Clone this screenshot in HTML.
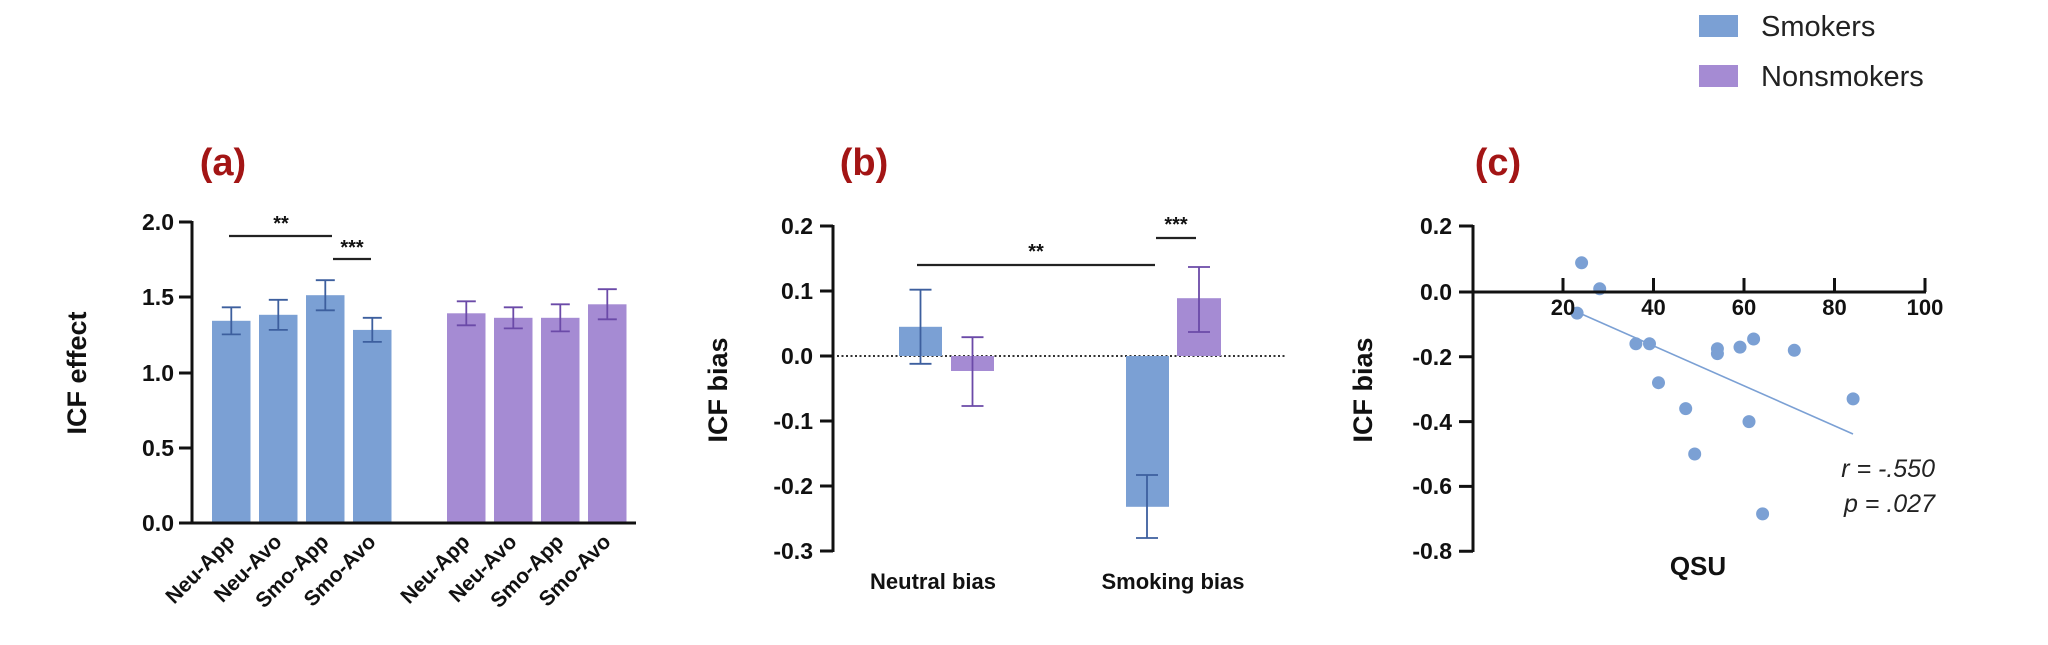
<!DOCTYPE html>
<html><head><meta charset="utf-8"><style>
html,body{margin:0;padding:0;background:#fff;}
svg{display:block;font-family:"Liberation Sans",Arial,sans-serif;}
.tk{font-size:23px;font-weight:bold;fill:#111;text-anchor:end;}
.ttl{font-size:27px;font-weight:bold;fill:#111;text-anchor:middle;}
.pl{font-size:38px;font-weight:bold;fill:#a31515;text-anchor:middle;}
.xl{font-size:21px;font-weight:bold;fill:#111;text-anchor:end;}
.ax{stroke:#111;stroke-width:3;fill:none;}
.eb{stroke:#3d5f9e;stroke-width:1.8;fill:none;}
.ep{stroke:#6b4aa8;stroke-width:1.8;fill:none;}
.st{font-size:20px;font-weight:bold;text-anchor:middle;fill:#111;}
</style></head><body>
<svg width="2048" height="645" viewBox="0 0 2048 645">
<!-- Legend -->
<rect x="1699" y="15" width="39" height="22" fill="#7ba0d4"/>
<text x="1761" y="36" font-size="29" fill="#222">Smokers</text>
<rect x="1699" y="65" width="39" height="22" fill="#a58bd3"/>
<text x="1761" y="86" font-size="29" fill="#222">Nonsmokers</text>

<!-- Panel a -->
<text class="pl" x="223" y="175">(a)</text>
<text class="ttl" transform="translate(86,373) rotate(-90)">ICF effect</text>
<g fill="#7ba0d4">
<rect x="212" y="320.8" width="38.5" height="202.2"/>
<rect x="259" y="314.8" width="38.5" height="208.2"/>
<rect x="306" y="295.2" width="38.5" height="227.8"/>
<rect x="353" y="329.9" width="38.5" height="193.1"/>
</g>
<g fill="#a58bd3">
<rect x="447" y="313.3" width="38.5" height="209.7"/>
<rect x="494" y="317.8" width="38.5" height="205.2"/>
<rect x="541" y="317.8" width="38.5" height="205.2"/>
<rect x="588" y="304.3" width="38.5" height="218.7"/>
</g>
<g class="eb">
<path d="M231.3 307.3V334.4M221.8 307.3H240.8M221.8 334.4H240.8"/>
<path d="M278.3 299.8V329.9M268.8 299.8H287.8M268.8 329.9H287.8"/>
<path d="M325.3 280.2V310.3M315.8 280.2H334.8M315.8 310.3H334.8"/>
<path d="M372.3 317.8V341.9M362.8 317.8H381.8M362.8 341.9H381.8"/>
</g>
<g class="ep">
<path d="M466.3 301.3V325.3M456.8 301.3H475.8M456.8 325.3H475.8"/>
<path d="M513.3 307.3V328.4M503.8 307.3H522.8M503.8 328.4H522.8"/>
<path d="M560.3 304.3V331.4M550.8 304.3H569.8M550.8 331.4H569.8"/>
<path d="M607.3 289.2V319.3M597.8 289.2H616.8M597.8 319.3H616.8"/>
</g>
<path class="ax" d="M192 221V523M179 222H192M179 297H192M179 373H192M179 448H192M179 523H636"/>
<text class="tk" x="174" y="230">2.0</text>
<text class="tk" x="174" y="305">1.5</text>
<text class="tk" x="174" y="381">1.0</text>
<text class="tk" x="174" y="456">0.5</text>
<text class="tk" x="174" y="531">0.0</text>
<path d="M229 236H332M333 259H371" stroke="#222" stroke-width="2.2"/>
<text class="st" x="281" y="230">**</text>
<text class="st" x="352" y="254">***</text>
<g class="xl">
<text transform="translate(236,543) rotate(-45)">Neu-App</text>
<text transform="translate(283,543) rotate(-45)">Neu-Avo</text>
<text transform="translate(330,543) rotate(-45)">Smo-App</text>
<text transform="translate(377,543) rotate(-45)">Smo-Avo</text>
<text transform="translate(471,543) rotate(-45)">Neu-App</text>
<text transform="translate(518,543) rotate(-45)">Neu-Avo</text>
<text transform="translate(565,543) rotate(-45)">Smo-App</text>
<text transform="translate(612,543) rotate(-45)">Smo-Avo</text>
</g>

<!-- Panel b -->
<text class="pl" x="864" y="175">(b)</text>
<text class="ttl" transform="translate(727,390) rotate(-90)">ICF bias</text>
<line x1="837" y1="356" x2="1287" y2="356" stroke="#333" stroke-width="2" stroke-dasharray="2,2.5"/>
<rect x="899" y="326.8" width="43" height="29.2" fill="#7ba0d4"/>
<rect x="951" y="356" width="43" height="15" fill="#a58bd3"/>
<rect x="1126" y="356" width="43" height="150.8" fill="#7ba0d4"/>
<rect x="1177" y="298.2" width="44" height="57.8" fill="#a58bd3"/>
<path class="eb" d="M920.5 289.7V363.8M909.5 289.7H931.5M909.5 363.8H931.5"/>
<path class="ep" d="M972.5 337.2V406M961.5 337.2H983.5M961.5 406H983.5"/>
<path class="eb" d="M1147 475V538M1136 475H1158M1136 538H1158"/>
<path class="ep" d="M1199 267V332M1188 267H1210M1188 332H1210"/>
<path class="ax" d="M833 225V552M820 226H833M820 291H833M820 356H833M820 421H833M820 486H833M820 551H833"/>
<text class="tk" x="813" y="234">0.2</text>
<text class="tk" x="813" y="299">0.1</text>
<text class="tk" x="813" y="364">0.0</text>
<text class="tk" x="813" y="429">-0.1</text>
<text class="tk" x="813" y="494">-0.2</text>
<text class="tk" x="813" y="559">-0.3</text>
<path d="M917 265H1155M1156 238H1196" stroke="#222" stroke-width="2.2"/>
<text class="st" x="1036" y="258">**</text>
<text class="st" x="1176" y="231">***</text>
<text x="933" y="589" font-size="22" font-weight="bold" text-anchor="middle" fill="#111">Neutral bias</text>
<text x="1173" y="589" font-size="22" font-weight="bold" text-anchor="middle" fill="#111">Smoking bias</text>

<!-- Panel c -->
<text class="pl" x="1498" y="175">(c)</text>
<text class="ttl" transform="translate(1372,390) rotate(-90)">ICF bias</text>
<line x1="1577" y1="312" x2="1853" y2="434" stroke="#7ba0d4" stroke-width="1.6"/>
<g fill="#7ba0d4">
<circle cx="1581.6" cy="262.8" r="6.5"/>
<circle cx="1599.7" cy="288.8" r="6.5"/>
<circle cx="1577.1" cy="313.1" r="6.5"/>
<circle cx="1635.9" cy="343.8" r="6.5"/>
<circle cx="1649.5" cy="343.8" r="6.5"/>
<circle cx="1658.5" cy="382.7" r="6.5"/>
<circle cx="1685.7" cy="408.6" r="6.5"/>
<circle cx="1694.7" cy="454" r="6.5"/>
<circle cx="1717.4" cy="348.7" r="6.5"/>
<circle cx="1717.4" cy="353.6" r="6.5"/>
<circle cx="1740" cy="347.1" r="6.5"/>
<circle cx="1749" cy="421.6" r="6.5"/>
<circle cx="1753.6" cy="339" r="6.5"/>
<circle cx="1762.6" cy="513.9" r="6.5"/>
<circle cx="1794.3" cy="350.3" r="6.5"/>
<circle cx="1853.1" cy="398.9" r="6.5"/>
</g>
<path class="ax" d="M1473 225V552M1459 226H1473M1459 292H1473M1459 356.8H1473M1459 421.6H1473M1459 486.4H1473M1459 551.2H1473M1473 292H1926M1563 278V292M1653.5 278V292M1744 278V292M1834.5 278V292M1925 278V292"/>
<text class="tk" x="1452" y="234">0.2</text>
<text class="tk" x="1452" y="300">0.0</text>
<text class="tk" x="1452" y="365">-0.2</text>
<text class="tk" x="1452" y="430">-0.4</text>
<text class="tk" x="1452" y="494">-0.6</text>
<text class="tk" x="1452" y="559">-0.8</text>
<g font-size="22" font-weight="bold" text-anchor="middle" fill="#111">
<text x="1563" y="315">20</text>
<text x="1653.5" y="315">40</text>
<text x="1744" y="315">60</text>
<text x="1834.5" y="315">80</text>
<text x="1925" y="315">100</text>
</g>
<text x="1935" y="477" font-size="25" font-style="italic" text-anchor="end" fill="#222">r = -.550</text>
<text x="1935" y="512" font-size="25" font-style="italic" text-anchor="end" fill="#222">p = .027</text>
<text x="1698" y="575" font-size="26" font-weight="bold" text-anchor="middle" fill="#111">QSU</text>
</svg>
</body></html>
